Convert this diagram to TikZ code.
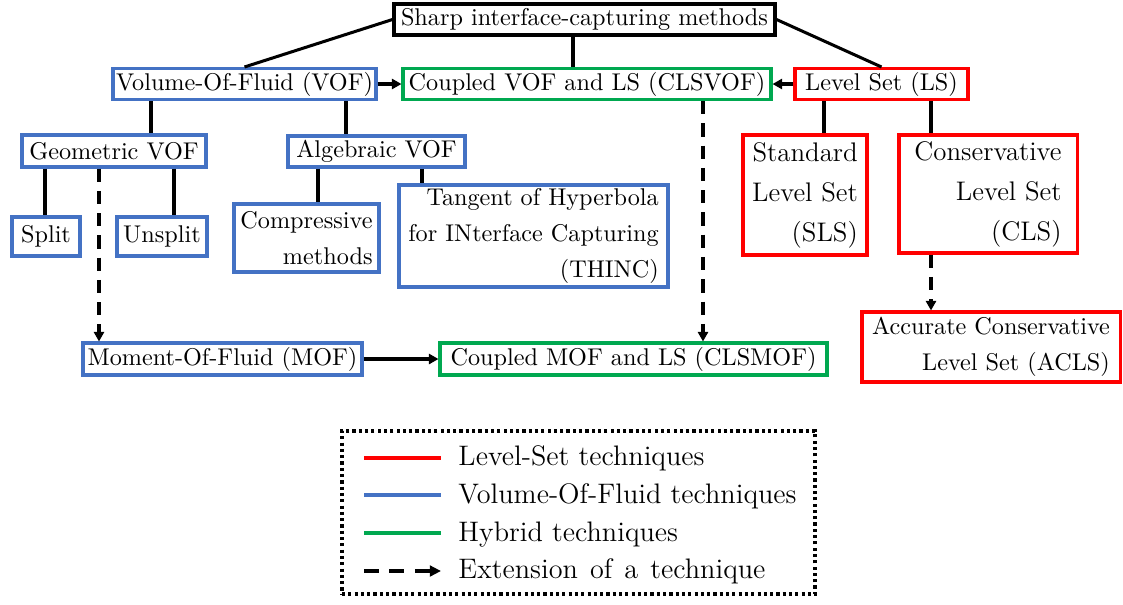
\documentclass[tikz,border=0pt]{standalone}
\usetikzlibrary{arrows.meta}
\definecolor{vofblue}{RGB}{68,114,196}
\definecolor{lsred}{RGB}{255,0,0}
\definecolor{hybgreen}{RGB}{0,168,80}
\def\px{0.413pt}
\tikzset{
  box/.style={draw, line width=1.25pt, inner xsep=1pt, inner ysep=0pt, align=right,
    font=\fontsize{10}{15}\selectfont},
  vofbox/.style={box, draw=vofblue},
  lsbox/.style={box, draw=lsred},
  hybbox/.style={box, draw=hybgreen},
  rootbox/.style={box, draw=black},
  bigtext/.style={font=\fontsize{11.1}{16.5}\selectfont},
  sz/.style 2 args={minimum width=#1*\px, minimum height=#2*\px},
  link/.style={line width=1.25pt},
  arr/.style={link, -{Triangle[length=4pt,width=4.2pt]}},
  ext/.style={arr, dash pattern=on 5.5pt off 3.7pt},
  legline/.style={line width=1.4pt},
  legtext/.style={anchor=base west, inner sep=0pt, font=\fontsize{11.65}{13}\selectfont},
}
\begin{document}
\begin{tikzpicture}[x=0.413pt, y=-0.413pt]
\useasboundingbox (0,0) rectangle (1123,604);

% nodes
\node[rootbox, sz={381}{31}] (sharp) at (584.5,19.5) {Sharp interface-capturing methods};
\node[vofbox, sz={263}{31}] (vof) at (244.5,84) {Volume-Of-Fluid (VOF)};
\node[hybbox, sz={368}{31}] (clsvof) at (587,84) {Coupled VOF and LS (CLSVOF)};
\node[lsbox, sz={173}{31}] (ls) at (881.5,84) {Level Set (LS)};
\node[vofbox, sz={184}{32}] (geo) at (114,151) {Geometric VOF};
\node[vofbox, sz={177}{31}] (alg) at (376.5,151.5) {Algebraic VOF};
\node[vofbox, sz={68}{39}] (split) at (46,236.5) {Split};
\node[vofbox, sz={90}{39}] (unsplit) at (162,236.5) {Unsplit};
\node[vofbox, sz={145}{68}] (comp) at (306.5,238) {Compressive\\methods};
\node[vofbox, sz={269}{102}] (thinc) at (533.5,236) {Tangent of Hyperbola\\for INterface Capturing\\(THINC)};
\node[lsbox, bigtext, sz={124}{120}] (sls) at (805,195) {Standard\\Level Set\\(SLS)};
\node[lsbox, bigtext, sz={178}{118}] (cls) at (988,194) {Conservative\\Level Set\\(CLS)};
\node[lsbox, sz={258}{70}] (acls) at (991,347) {Accurate Conservative\\Level Set (ACLS)};
\node[vofbox, sz={279}{32}] (mof) at (222.5,359) {Moment-Of-Fluid (MOF)};
\node[hybbox, sz={387}{32}] (clsmof) at (633.5,359) {Coupled MOF and LS (CLSMOF)};

% column coordinates
\coordinate (c45) at (45,0);
\coordinate (c99) at (99,0);
\coordinate (c151) at (151,0);
\coordinate (c174) at (174,0);
\coordinate (c318) at (318,0);
\coordinate (c346) at (346,0);
\coordinate (c422) at (422,0);
\coordinate (c573) at (573,0);
\coordinate (c703) at (703,0);
\coordinate (c824) at (824,0);
\coordinate (c931) at (931,0);

% tree links
\draw[link] (sharp.west) -- (vof.north);
\draw[link] (sharp.east) -- (ls.north);
\draw[link] (c573 |- sharp.south) -- (c573 |- clsvof.north);
\draw[link] (c151 |- vof.south) -- (c151 |- geo.north);
\draw[link] (c346 |- vof.south) -- (c346 |- alg.north);
\draw[link] (c45 |- geo.south) -- (c45 |- split.north);
\draw[link] (c174 |- geo.south) -- (c174 |- unsplit.north);
\draw[link] (c318 |- alg.south) -- (c318 |- comp.north);
\draw[link] (c422 |- alg.south) -- (c422 |- thinc.north);
\draw[link] (c824 |- ls.south) -- (c824 |- sls.north);
\draw[link] (c931 |- ls.south) -- (c931 |- cls.north);

% arrows
\draw[arr] (vof.east) -- (clsvof.west);
\draw[arr] (ls.west) -- (clsvof.east);
\draw[arr] (mof.east) -- (clsmof.west);
\draw[ext] (c99 |- geo.south) -- (c99 |- mof.north);
\draw[ext] (c703 |- clsvof.south) -- (c703 |- clsmof.north);
\draw[ext] (c931 |- cls.south) -- (c931 |- acls.north);

% legend
\node[draw, line width=1.3pt, dash pattern=on 1.3pt off 1.3pt, sz={473}{163}, inner sep=0pt] (legend) at (578.5,512.5) {};
\coordinate (l1a) at (364,458); \coordinate (l1b) at (441,458);
\coordinate (l2a) at (364,495); \coordinate (l2b) at (441,495);
\coordinate (l3a) at (364,533); \coordinate (l3b) at (441,533);
\coordinate (l4a) at (364,571); \coordinate (l4b) at (441,571);
\draw[legline, lsred] (l1a) -- (l1b);
\draw[legline, vofblue] (l2a) -- (l2b);
\draw[legline, hybgreen] (l3a) -- (l3b);
\draw[line width=1.4pt, dash pattern=on 6.2pt off 4.3pt, -{Triangle[length=4.6pt,width=4.4pt]}] (l4a) -- (l4b);
\node[legtext] (t1) at (458,465) {Level-Set techniques};
\node[legtext] (t2) at (458,503) {Volume-Of-Fluid techniques};
\node[legtext] (t3) at (458,541) {Hybrid techniques};
\node[legtext] (t4) at (458,578) {\spaceskip=5pt Extension of a technique};
\end{tikzpicture}
\end{document}
